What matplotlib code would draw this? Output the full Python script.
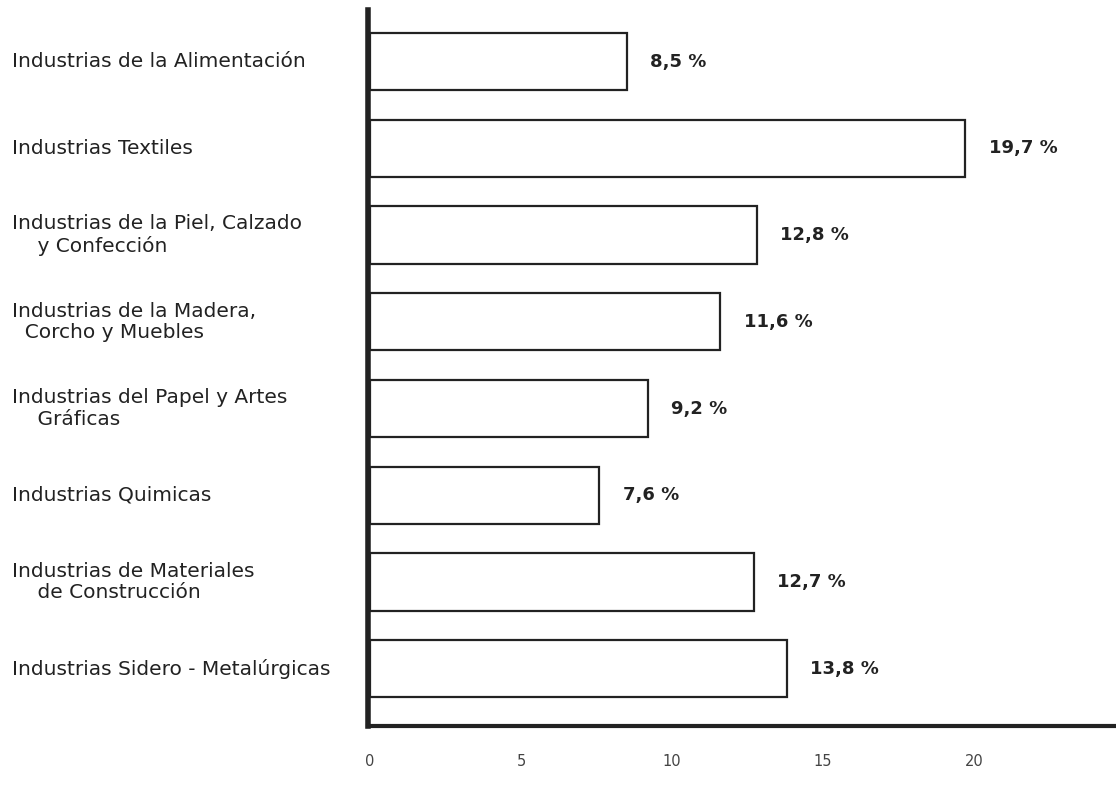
import matplotlib.pyplot as plt

# datos
categorias = [
    "Industrias de la Alimentación",
    "Industrias Textiles",
    "Industrias de la Piel, Calzado\n    y Confección",
    "Industrias de la Madera,\n  Corcho y Muebles",
    "Industrias del Papel y Artes\n    Gráficas",
    "Industrias Quimicas",
    "Industrias de Materiales\n    de Construcción",
    "Industrias Sidero - Metalúrgicas",
]
valores = [8.5, 19.7, 12.8, 11.6, 9.2, 7.6, 12.7, 13.8]
etiquetas = ["8,5 %", "19,7 %", "12,8 %", "11,6 %", "9,2 %", "7,6 %", "12,7 %", "13,8 %"]
xticks = [0, 5, 10, 15, 20]

plt.rcParams['font.family'] = ['DejaVu Sans']

fig = plt.figure(figsize=(11.16, 7.88), dpi=100)
ax = fig.add_axes([0.3297, 0.0787, 0.6703, 0.9086])

pos = list(range(len(valores)))
ax.barh(pos, valores, height=0.66, color='white', edgecolor='#222222', linewidth=1.6)

# etiquetas de valor
for p, v, t in zip(pos, valores, etiquetas):
    ax.annotate(t, (v, p), xytext=(17, 0), textcoords='offset points',
                ha='left', va='center', fontsize=13, fontweight='bold',
                color='#222222')

# nombres de categorias, alineados a la izquierda del lienzo
trans = ax.get_yaxis_transform()
for p, c in zip(pos, categorias):
    ax.text(-0.476, p, c, transform=trans, ha='left', va='center',
            fontsize=14.5, color='#222222', linespacing=1.15)

ax.set_xlim(-0.066, 24.7)
ax.set_ylim(7.66, -0.594)

ax.set_yticks([])
ax.set_xticks(xticks)
ax.set_xticklabels([str(x) for x in xticks], fontsize=10.5, color='#444444')
ax.tick_params(axis='x', which='major', length=0, pad=20)
ax.set_xticks([10], minor=True)
ax.tick_params(axis='x', which='minor', length=12, width=0.8, color='#444444')

for s in ['top', 'right']:
    ax.spines[s].set_visible(False)
ax.spines['left'].set_linewidth(4)
ax.spines['left'].set_color('#222222')
ax.spines['bottom'].set_linewidth(3)
ax.spines['bottom'].set_color('#222222')

plt.savefig('out.png', dpi=100)
plt.close()
